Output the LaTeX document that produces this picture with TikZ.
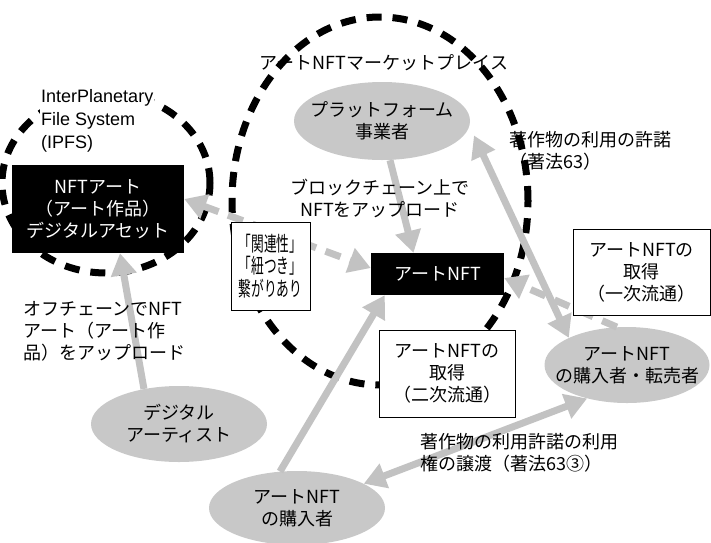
\documentclass[tikz,border=0pt]{standalone}
\usepackage{fontspec}
\setmainfont{Noto Sans CJK JP}
\newfontfamily\latinfont{Liberation Sans}
\newfontfamily\narrowjp[FakeStretch=0.62]{Noto Sans CJK JP}
\usetikzlibrary{shapes.geometric,arrows.meta}

\definecolor{ovalgray}{RGB}{200,200,200}
\definecolor{linkgray}{RGB}{194,194,194}

\tikzset{
  party/.style={ellipse, fill=ovalgray, minimum width=176pt, minimum height=76pt, inner sep=0pt},
  artbox/.style={rectangle, fill=black, text=white, align=center},
  notebox/.style={rectangle, draw=black, line width=0.8pt, fill=white, align=center},
  zone/.style={line width=7pt, dash pattern=on 15pt off 11pt},
  grayarrow/.style={draw=linkgray, line width=7pt, ->},
  grayboth/.style={grayarrow, <->},
  graydash/.style={grayarrow, dash pattern=on 16pt off 10pt},
}

\begin{document}
\begin{tikzpicture}[x=1pt,y=-1pt,font=\fontsize{18}{22}\selectfont,
  >={Triangle[length=22pt,width=25pt]}]

\useasboundingbox (0,0) rectangle (711,542);

% Dashed zones: IPFS and marketplace
\draw[zone] (106,183) ellipse [x radius=104pt, y radius=90pt];
\draw[zone] (380,201) ellipse [x radius=148pt, y radius=184pt];

% Black boxes
\node[artbox, minimum width=172pt, minimum height=88pt] (nftart) at (98,209) {NFTアート\\（アート作品）\\デジタルアセット};
\node[artbox, minimum width=133pt, minimum height=42pt] (artnft) at (437.5,274) {アートNFT};

% Parties
\node[party, minimum height=78pt, label={[align=center]center:プラットフォーム\\事業者}] (platform) at (382,121) {};
\node[party, label={[align=center]center:デジタル\\アーティスト}] (artist) at (179,424) {};
\node[party, minimum height=74pt, label={[align=center]center:アートNFT\\の購入者}] (buyer) at (297,508) {};
\node[party, minimum width=165pt, label={[align=center]center:アートNFT\\の購入者・転売者}] (reseller) at (627,365) {};

% Gray connectors
\draw[grayarrow] (artist.135) -- ([xshift=22pt]nftart.south);
\draw[grayarrow] ([xshift=8pt]platform.south) -- ([xshift=-24pt]artnft.north);
\draw[grayarrow] (buyer.115) -- ([xshift=14pt]artnft.south west);
\draw[grayboth] ([xshift=10pt]platform.-10) -- (reseller.155);
\draw[graydash] (reseller.105) -- ([yshift=-4pt]artnft.east);
\draw[graydash, <->] ([yshift=10pt]nftart.east) -- ([yshift=6pt]artnft.west);
\draw[grayboth] (reseller.-140) -- (buyer.20);

% Texts
\node[font=\latinfont\fontsize{18}{23}\selectfont, align=left, anchor=west, fill=white, inner sep=1pt] (ipfs) at (40,121) {InterPlanetary\\File System\\(IPFS)};
\node (market) at (384,63) {アートNFTマーケットプレイス};
\node[align=center] (upload) at (380,198) {ブロックチェーン上で\\NFTをアップロード};
\node[align=left, anchor=west] (license) at (506,151) {著作物の利用の許諾\\（著法63）};
\node[align=left, anchor=west] (offchain) at (20,331) {オフチェーンでNFT\\アート（アート作\\品）をアップロード};
\node[align=left, anchor=west] (transfer) at (417,453) {著作物の利用許諾の利用\\権の譲渡（著法63③）};

% Note boxes
\node[notebox, font=\narrowjp\fontsize{20.5}{22.5}\selectfont, minimum width=79pt, minimum height=88pt] (relation) at (270.5,266) {「関連性」\\「紐つき」\\繋がりあり};
\node[notebox, minimum width=137pt, minimum height=86pt] (primary) at (641.5,272) {アートNFTの\\取得\\（一次流通）};
\node[notebox, minimum width=136pt, minimum height=87pt] (secondary) at (447,373.5) {アートNFTの\\取得\\（二次流通）};

\end{tikzpicture}
\end{document}
